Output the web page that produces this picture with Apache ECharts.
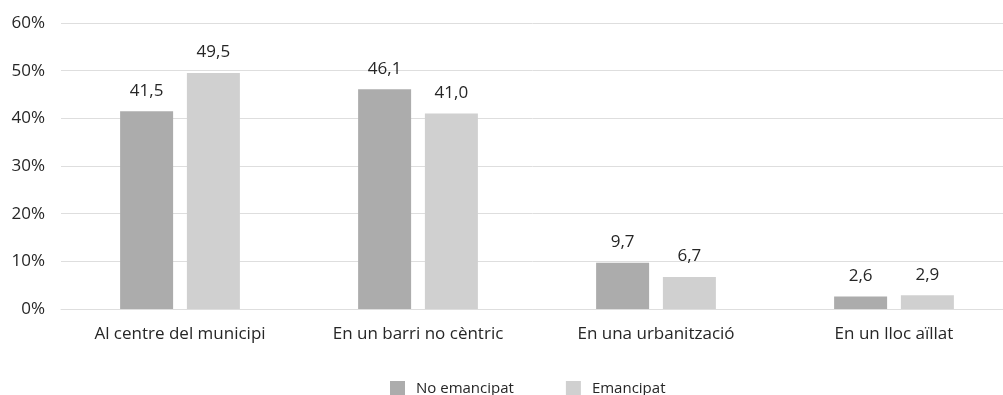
<!DOCTYPE html>
<html>
<head>
<meta charset="utf-8">
<script src="https://cdn.jsdelivr.net/npm/echarts@6/dist/echarts.min.js"></script>
<style>
html, body { margin: 0; padding: 0; background: #fff; }
#main { width: 1003px; height: 395px; }
</style>
</head>
<body>
<div id="main"></div>
<script>
var categories = ['Al centre del municipi', 'En un barri no cèntric', 'En una urbanització', 'En un lloc aïllat'];
var noEmancipat = [41.5, 46.1, 9.7, 2.6];
var emancipat = [49.5, 41.0, 6.7, 2.9];

var chart = echarts.init(document.getElementById('main'));

function fmtLabel(p) {
    return p.value.toFixed(1).replace('.', ',');
}

var FONT = '"Open Sans", "Liberation Sans", sans-serif';
var TXT = '#262626';

var option = {
    animation: false,
    textStyle: { fontFamily: FONT },
    // la graella continua fora de la imatge per la dreta
    grid: { left: 61, width: 952, top: 23, bottom: 86, outerBoundsMode: 'none' },
    legend: {
        top: 376,
        left: 385,
        itemWidth: 15,
        itemHeight: 15,
        itemGap: 52,
        icon: 'rect',
        textStyle: { fontSize: 15, color: TXT, fontFamily: FONT, padding: [0, 0, 0, 6] },
        data: ['No emancipat', 'Emancipat']
    },
    xAxis: {
        type: 'category',
        data: categories,
        axisLine: { show: true, lineStyle: { color: '#dedede' } },
        axisTick: { show: false },
        axisLabel: { color: TXT, fontSize: 17, margin: 17, fontFamily: FONT }
    },
    yAxis: {
        type: 'value',
        min: 0,
        max: 60,
        interval: 10,
        axisLine: { show: false },
        axisTick: { show: false },
        splitLine: { lineStyle: { color: '#dedede' } },
        axisLabel: { color: TXT, fontSize: 17, margin: 16, fontFamily: FONT,
            padding: [0, 0, 5, 0],
            formatter: '{value}%' }
    },
    series: [
        {
            name: 'No emancipat',
            type: 'bar',
            data: noEmancipat,
            barWidth: 53,
            barGap: '26%',
            itemStyle: { color: '#acacac' },
            label: { show: true, position: 'top', distance: 12, color: TXT, fontSize: 17, formatter: fmtLabel }
        },
        {
            name: 'Emancipat',
            type: 'bar',
            data: emancipat,
            barWidth: 53,
            barGap: '26%',
            itemStyle: { color: '#d0d0d0' },
            label: { show: true, position: 'top', distance: 12, color: TXT, fontSize: 17, formatter: fmtLabel }
        }
    ]
};

chart.setOption(option);
</script>
</body>
</html>
